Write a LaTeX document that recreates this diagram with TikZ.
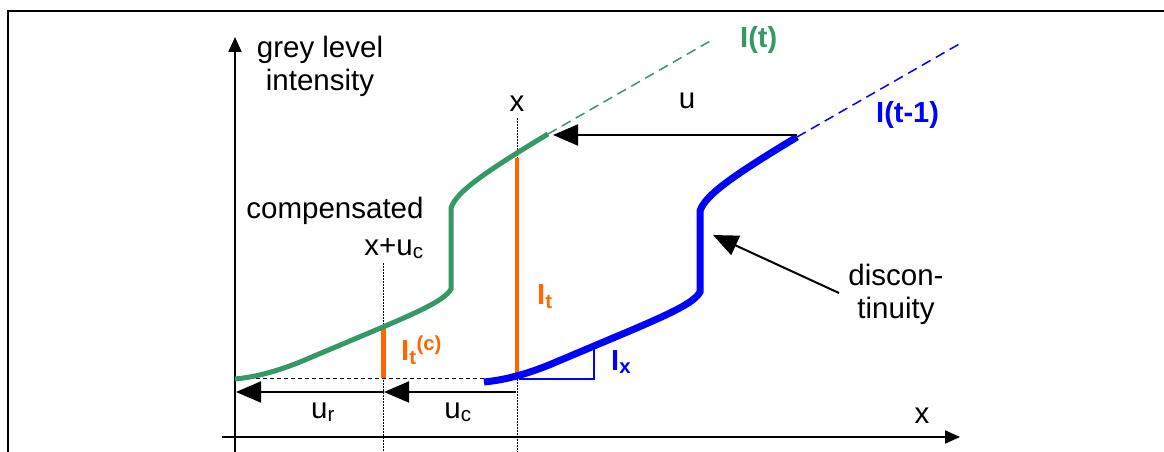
\documentclass[tikz,border=0pt]{standalone}
\usepackage{fontspec}
\setmainfont{Liberation Sans}
\usetikzlibrary{arrows.meta}
\definecolor{cG}{HTML}{339966}
\definecolor{cB}{HTML}{0000FF}
\definecolor{cO}{HTML}{FF6600}
\tikzset{
  axis/.style={line width=2pt,-{Triangle[length=15pt,width=13pt]}},
  bigarrow/.style={line width=2pt,-{Triangle[length=25pt,width=21pt]}},
  guide/.style={line width=1pt,dash pattern=on 1.5pt off 1.5pt},
  refline/.style={line width=1pt,dash pattern=on 4pt off 3pt},
  ext/.style={line width=1.5pt,dash pattern=on 10pt off 6pt},
  lbl/.style={inner sep=0pt,align=center,font=\fontsize{29.5}{33}\selectfont},
  blbl/.style={lbl,font=\fontsize{29}{33}\selectfont\bfseries},
  profile/.style={insert path={(235,379) .. controls (255,377) and (275,372) .. (300,362)
    -- (383,327) .. controls (420,311) and (445,300) .. (451,289) -- (451,208)
    .. controls (456,192) and (485,172) .. (548,134)}},
}
\begin{document}
\begin{tikzpicture}[x=1pt,y=-1pt]
  \useasboundingbox (0,0) rectangle (1164,452);
  \draw[line width=2pt] (8,452) -- (8,11) -- (1164,11);
  % axes
  \coordinate (o1) at (222,437); \coordinate (xend) at (960,437);
  \coordinate (o2) at (235,452); \coordinate (yend) at (235,37);
  \draw[axis] (o1) -- (xend);
  \draw[axis] (o2) -- (yend);
  \node[lbl,anchor=north] (ylab) at (320,36) {grey level\\intensity};
  \node[lbl,anchor=base] (xlab) at (922,423) {x};
  % guides at x and x+u_c
  \coordinate (gx1) at (517,118); \coordinate (gx2) at (517,452);
  \coordinate (gc1) at (383,263); \coordinate (gc2) at (383,452);
  \draw[guide] (gx1) -- (gx2);
  \draw[guide] (gc1) -- (gc2);
  \coordinate (r1) at (235,378); \coordinate (r2) at (517,378);
  \draw[refline] (r1) -- (r2);
  \node[lbl,anchor=base] (xtop) at (517,111) {x};
  \node[lbl,anchor=base] (comp) at (335,218) {compensated};
  \node[lbl,anchor=base] (xuc) at (394,255) {x+u\textsubscript{c}};
  % intensity differences
  \coordinate (it1) at (517,158); \coordinate (it2) at (517,377);
  \coordinate (ic1) at (383,327); \coordinate (ic2) at (383,378);
  \draw[cO,line width=4pt] (it1) -- (it2);
  \draw[cO,line width=5pt] (ic1) -- (ic2);
  \node[blbl,cO,anchor=base west] (Itlab) at (537,304) {I\textsubscript{t}};
  \node[blbl,cO,anchor=base west] (Iclab) at (401,360) {I\textsubscript{t}\textsuperscript{(c)}};
  % gradient triangle
  \coordinate (g1) at (519,379); \coordinate (g2) at (594,379); \coordinate (g3) at (594,347);
  \draw[cB,line width=2pt] (g1) -- (g2) -- (g3);
  \node[blbl,cB,anchor=base west] (Ixlab) at (611,370) {I\textsubscript{x}};
  % the two profiles
  \coordinate (gEnd) at (548,134); \coordinate (gTip) at (712,40);
  \coordinate (bEnd) at (797,137); \coordinate (bTip) at (961,43);
  \draw[cG,ext] (gEnd) -- (gTip);
  \draw[cB,ext] (bEnd) -- (bTip);
  \draw[cG,line width=5pt,profile];
  \draw[cB,line width=7pt,shift={(249,3)},profile];
  \node[blbl,cG,anchor=base west] (Itop) at (740,48) {I(t)};
  \node[blbl,cB,anchor=base west] (Iprev) at (876,122) {I(t-1)};
  % displacements
  \coordinate (uS) at (797,135); \coordinate (uE) at (553,135);
  \draw[bigarrow] (uS) -- (uE);
  \node[lbl,anchor=base] (ulab) at (687,108) {u};
  \coordinate (a1) at (516,392); \coordinate (a2) at (384,392); \coordinate (a3) at (236,392);
  \draw[bigarrow] (a1) -- (a2);
  \draw[bigarrow] (a2) -- (a3);
  \node[lbl,anchor=base] (urlab) at (323,418) {u\textsubscript{r}};
  \node[lbl,anchor=base] (uclab) at (458,418) {u\textsubscript{c}};
  % discontinuity
  \coordinate (dS) at (839,293); \coordinate (dE) at (713,235);
  \draw[bigarrow] (dS) -- (dE);
  \node[lbl,anchor=north] (dlab) at (896,264) {discon-\\tinuity};
\end{tikzpicture}
\end{document}
